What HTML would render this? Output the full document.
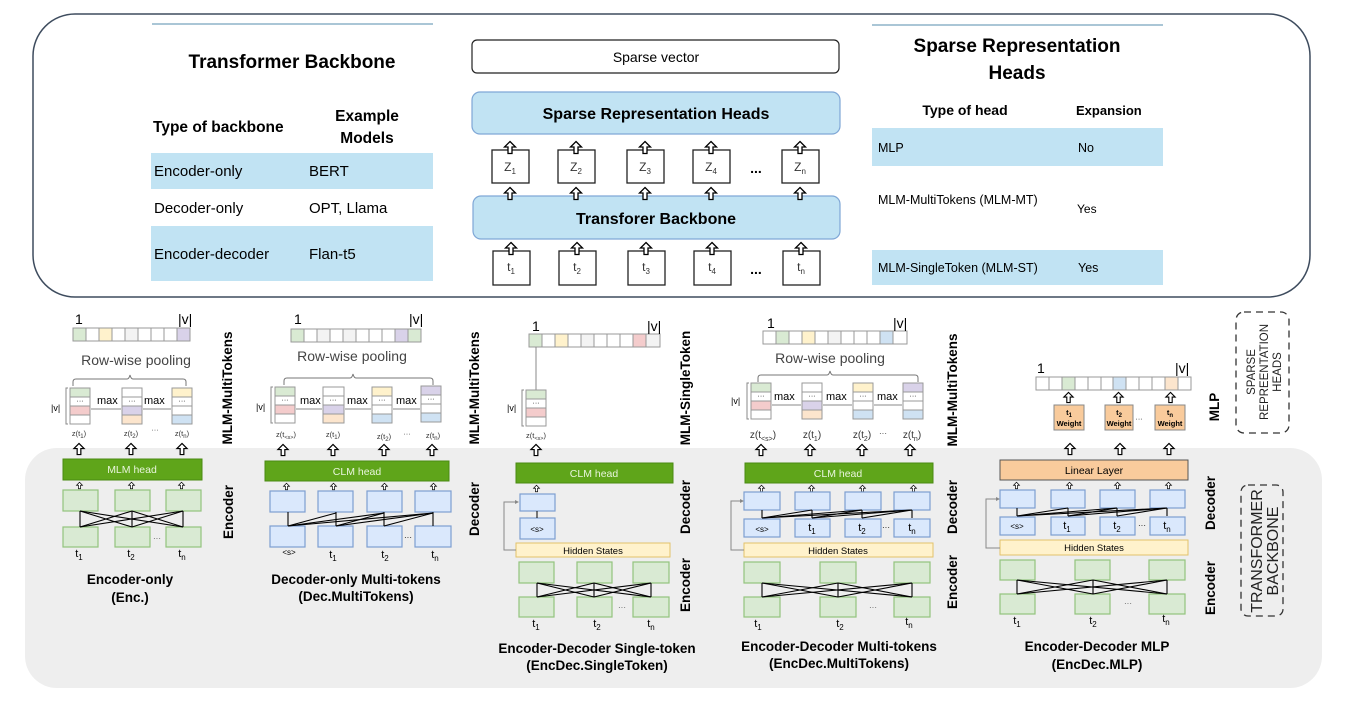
<!DOCTYPE html>
<html><head><meta charset="utf-8"><style>html,body{margin:0;padding:0;background:#fff}svg{display:block}text{font-family:"Liberation Sans",sans-serif}</style></head><body>
<svg width="1346" height="703" viewBox="0 0 1346 703" xmlns="http://www.w3.org/2000/svg">
<defs>
<symbol id="ar" viewBox="0 0 12 13" overflow="visible"><polygon points="6,0.5 11.5,6 8,6 8,12.5 4,12.5 4,6 0.5,6" fill="#fff" stroke="#000" stroke-width="1.3"/></symbol>
</defs>
<!-- bottom gray region -->
<rect x="25" y="448" width="1297" height="240" rx="32" fill="#eeeeee"/>
<!-- top box -->
<rect x="33" y="14" width="1277" height="283" rx="42" fill="#fff" stroke="#3e4c5e" stroke-width="1.5"/>

<!-- left table -->
<line x1="152" y1="24" x2="433" y2="24" stroke="#8eb3c9" stroke-width="1.5"/>
<text x="292" y="68" font-size="19" font-weight="bold" text-anchor="middle">Transformer Backbone</text>
<text x="153" y="132" font-size="15.5" font-weight="bold">Type of backbone</text>
<text x="367" y="121" font-size="15.5" font-weight="bold" text-anchor="middle">Example</text>
<text x="367" y="143" font-size="15.5" font-weight="bold" text-anchor="middle">Models</text>
<rect x="151" y="153" width="282" height="36" fill="#c1e3f3"/>
<rect x="151" y="226" width="282" height="55" fill="#c1e3f3"/>
<text x="154" y="176" font-size="15">Encoder-only</text><text x="309" y="176" font-size="15">BERT</text>
<text x="154" y="213" font-size="15">Decoder-only</text><text x="309" y="213" font-size="15">OPT, Llama</text>
<text x="154" y="259" font-size="15">Encoder-decoder</text><text x="309" y="259" font-size="15">Flan-t5</text>

<!-- middle -->
<rect x="472" y="40" width="367" height="33" rx="5" fill="#fff" stroke="#222" stroke-width="1.2"/>
<text x="656" y="62" font-size="14" text-anchor="middle">Sparse vector</text>
<rect x="472" y="92" width="368" height="42" rx="8" fill="#c1e3f3" stroke="#7fa7d6" stroke-width="1.2"/>
<text x="656" y="119" font-size="16" font-weight="bold" text-anchor="middle">Sparse Representation Heads</text>
<rect x="473" y="196" width="367" height="43" rx="8" fill="#c1e3f3" stroke="#7fa7d6" stroke-width="1.2"/>
<text x="656" y="224" font-size="16" font-weight="bold" text-anchor="middle">Transforer Backbone</text>
<g stroke="#222" stroke-width="1.3" fill="#fff">
<rect x="492" y="150" width="37" height="33"/><rect x="558" y="150" width="37" height="33"/><rect x="627" y="150" width="37" height="33"/><rect x="693" y="150" width="37" height="33"/><rect x="782" y="150" width="37" height="33"/>
<rect x="493" y="251" width="37" height="34"/><rect x="559" y="251" width="37" height="34"/><rect x="628" y="251" width="37" height="34"/><rect x="694" y="251" width="37" height="34"/><rect x="783" y="251" width="37" height="34"/>
</g>
<g font-size="12" text-anchor="middle" fill="#333">
<text x="510" y="171">Z<tspan font-size="8" dy="3">1</tspan></text><text x="576" y="171">Z<tspan font-size="8" dy="3">2</tspan></text><text x="645" y="171">Z<tspan font-size="8" dy="3">3</tspan></text><text x="711" y="171">Z<tspan font-size="8" dy="3">4</tspan></text><text x="800" y="171">Z<tspan font-size="8" dy="3">n</tspan></text>
<text x="511" y="271">t<tspan font-size="8" dy="3">1</tspan></text><text x="577" y="271">t<tspan font-size="8" dy="3">2</tspan></text><text x="646" y="271">t<tspan font-size="8" dy="3">3</tspan></text><text x="712" y="271">t<tspan font-size="8" dy="3">4</tspan></text><text x="801" y="271">t<tspan font-size="8" dy="3">n</tspan></text>
</g>
<text x="756" y="173" font-size="14" font-weight="bold" text-anchor="middle">...</text>
<text x="756" y="274" font-size="14" font-weight="bold" text-anchor="middle">...</text>
<g>
<use href="#ar" x="504" y="141" width="12" height="13"/><use href="#ar" x="570" y="141" width="12" height="13"/><use href="#ar" x="639" y="141" width="12" height="13"/><use href="#ar" x="705" y="141" width="12" height="13"/><use href="#ar" x="794" y="141" width="12" height="13"/>
<use href="#ar" x="504" y="187" width="12" height="13"/><use href="#ar" x="570" y="187" width="12" height="13"/><use href="#ar" x="639" y="187" width="12" height="13"/><use href="#ar" x="705" y="187" width="12" height="13"/><use href="#ar" x="794" y="187" width="12" height="13"/>
<use href="#ar" x="505" y="242" width="12" height="13"/><use href="#ar" x="571" y="242" width="12" height="13"/><use href="#ar" x="640" y="242" width="12" height="13"/><use href="#ar" x="706" y="242" width="12" height="13"/><use href="#ar" x="795" y="242" width="12" height="13"/>
</g>

<!-- right table -->
<line x1="872" y1="25" x2="1163" y2="25" stroke="#8eb3c9" stroke-width="1.5"/>
<text x="1017" y="52" font-size="19" font-weight="bold" text-anchor="middle">Sparse Representation</text>
<text x="1017" y="79" font-size="19" font-weight="bold" text-anchor="middle">Heads</text>
<text x="965" y="115" font-size="14" font-weight="bold" text-anchor="middle">Type of head</text>
<text x="1076" y="115" font-size="13" font-weight="bold">Expansion</text>
<rect x="872" y="128" width="291" height="38" fill="#c1e3f3"/>
<rect x="872" y="250" width="291" height="35" fill="#c1e3f3"/>
<text x="878" y="152" font-size="12.5">MLP</text><text x="1078" y="152" font-size="12.5">No</text>
<text x="878" y="204" font-size="12.5">MLM-MultiTokens (MLM-MT)</text><text x="1077" y="213" font-size="12">Yes</text>
<text x="878" y="272" font-size="12.5">MLM-SingleToken (MLM-ST)</text><text x="1078" y="272" font-size="12.5">Yes</text>

<!-- ============ PANEL 1 ============ -->
<g stroke="#999" stroke-width="1">
<rect x="73" y="328" width="13" height="13" fill="#d9ead3"/><rect x="86" y="328" width="13" height="13" fill="#fff"/><rect x="99" y="328" width="13" height="13" fill="#fff2cc"/><rect x="112" y="328" width="13" height="13" fill="#fff"/><rect x="125" y="328" width="13" height="13" fill="#f3f3f3"/><rect x="138" y="328" width="13" height="13" fill="#fff"/><rect x="151" y="328" width="13" height="13" fill="#fff"/><rect x="164" y="328" width="13" height="13" fill="#fff"/><rect x="177" y="328" width="13" height="13" fill="#d9d2e9"/>
</g>
<text x="75" y="324" font-size="14">1</text><text x="178" y="324" font-size="14">|v|</text>
<text x="136" y="365" font-size="14" fill="#444" text-anchor="middle">Row-wise pooling</text>
<path d="M73,386 v-4 q0,-3 3,-3 h51 q2,0 3,-4 q1,4 3,4 h50 q3,0 3,3 v4" fill="none" stroke="#777"/>
<g stroke="#999" font-size="7" text-anchor="middle">
<g transform="translate(70,388)"><rect width="20" height="9" fill="#d9ead3"/><rect y="9" width="20" height="9" fill="#fff"/><rect y="18" width="20" height="9" fill="#f4cccc"/><rect y="27" width="20" height="9" fill="#fff"/></g>
<g transform="translate(122,388)"><rect width="20" height="9" fill="#fff"/><rect y="9" width="20" height="9" fill="#fff"/><rect y="18" width="20" height="9" fill="#d9d2e9"/><rect y="27" width="20" height="9" fill="#fce5cd"/></g>
<g transform="translate(172,388)"><rect width="20" height="9" fill="#fff2cc"/><rect y="9" width="20" height="9" fill="#fff"/><rect y="18" width="20" height="9" fill="#fff"/><rect y="27" width="20" height="9" fill="#cfe2f3"/></g>
</g>
<g font-size="7" text-anchor="middle"><text x="80" y="403">···</text><text x="132" y="403">···</text><text x="182" y="403">···</text></g>
<g stroke="#888"><line x1="91" y1="409" x2="121" y2="409"/><line x1="143" y1="409" x2="171" y2="409"/></g>
<g font-size="11"><text x="97" y="404">max</text><text x="144" y="404">max</text></g>
<text x="51" y="411" font-size="9">|v|</text><path d="M68,388 h-2 v36 h2" fill="none" stroke="#888"/>
<g font-size="7.5" text-anchor="middle" fill="#333"><text x="79" y="436">z(t<tspan font-size="6" dy="2">1</tspan><tspan dy="-2">)</tspan></text><text x="131" y="436">z(t<tspan font-size="6" dy="2">2</tspan><tspan dy="-2">)</tspan></text><text x="155" y="432">···</text><text x="182" y="436">z(t<tspan font-size="6" dy="2">n</tspan><tspan dy="-2">)</tspan></text></g>
<use href="#ar" x="73" y="443" width="12" height="12"/><use href="#ar" x="125" y="443" width="12" height="12"/><use href="#ar" x="176" y="443" width="12" height="12"/>
<rect x="63" y="459" width="139" height="21" fill="#5fa51a" stroke="#4a8a12"/>
<text x="132" y="473" font-size="10.5" fill="#e8f5dc" text-anchor="middle">MLM head</text>
<use href="#ar" x="76" y="482" width="7" height="7"/><use href="#ar" x="128" y="482" width="7" height="7"/><use href="#ar" x="178" y="482" width="7" height="7"/>
<g fill="#d9ead3" stroke="#93c47d" stroke-width="1.2">
<rect x="63" y="490" width="35" height="21"/><rect x="115" y="490" width="35" height="21"/><rect x="166" y="490" width="35" height="21"/>
<rect x="63" y="527" width="35" height="20"/><rect x="115" y="527" width="35" height="20"/><rect x="166" y="527" width="35" height="20"/>
</g>
<g stroke="#000" stroke-width="1.1">
<line x1="80" y1="511" x2="80" y2="527"/><line x1="132" y1="511" x2="132" y2="527"/><line x1="183" y1="511" x2="183" y2="527"/>
<line x1="80" y1="511" x2="132" y2="527"/><line x1="80" y1="511" x2="183" y2="527"/><line x1="132" y1="511" x2="80" y2="527"/><line x1="132" y1="511" x2="183" y2="527"/><line x1="183" y1="511" x2="80" y2="527"/><line x1="183" y1="511" x2="132" y2="527"/>
</g>
<text x="157" y="541" font-size="8" fill="#555" text-anchor="middle">···</text>
<g font-size="11" text-anchor="middle"><text x="79" y="557">t<tspan font-size="8" dy="3">1</tspan></text><text x="131" y="557">t<tspan font-size="8" dy="3">2</tspan></text><text x="182" y="557">t<tspan font-size="8" dy="3">n</tspan></text></g>
<g font-size="13.5" font-weight="bold" text-anchor="middle"><text x="130" y="584">Encoder-only</text><text x="130" y="602">(Enc.)</text></g>
<text transform="translate(232,388) rotate(-90)" font-size="13.5" font-weight="bold" text-anchor="middle">MLM-MultiTokens</text>
<text transform="translate(233,512) rotate(-90)" font-size="13.5" font-weight="bold" text-anchor="middle">Encoder</text>

<!-- ============ PANEL 2 ============ -->
<g stroke="#999">
<rect x="291" y="329" width="13" height="13" fill="#d9ead3"/><rect x="304" y="329" width="13" height="13" fill="#fff"/><rect x="317" y="329" width="13" height="13" fill="#f3f3f3"/><rect x="330" y="329" width="13" height="13" fill="#fff"/><rect x="343" y="329" width="13" height="13" fill="#f3f3f3"/><rect x="356" y="329" width="13" height="13" fill="#fff"/><rect x="369" y="329" width="13" height="13" fill="#fff"/><rect x="382" y="329" width="13" height="13" fill="#fff"/><rect x="395" y="329" width="13" height="13" fill="#d9d2e9"/><rect x="408" y="329" width="13" height="13" fill="#d9ead3"/>
</g>
<text x="294" y="324" font-size="14">1</text><text x="409" y="324" font-size="14">|v|</text>
<text x="352" y="361" font-size="14" fill="#444" text-anchor="middle">Row-wise pooling</text>
<path d="M284,385 v-4 q0,-3 3,-3 h63 q2,0 3,-4 q1,4 3,4 h74 q3,0 3,3 v4" fill="none" stroke="#777"/>
<g stroke="#999">
<g transform="translate(275,387)"><rect width="20" height="9" fill="#d9ead3"/><rect y="9" width="20" height="9" fill="#fff"/><rect y="18" width="20" height="9" fill="#f4cccc"/><rect y="27" width="20" height="9" fill="#fff"/></g>
<g transform="translate(323,387)"><rect width="21" height="9" fill="#fff"/><rect y="9" width="21" height="9" fill="#fff"/><rect y="18" width="21" height="9" fill="#d9d2e9"/><rect y="27" width="21" height="9" fill="#fce5cd"/></g>
<g transform="translate(372,387)"><rect width="20" height="9" fill="#fff2cc"/><rect y="9" width="20" height="9" fill="#fff"/><rect y="18" width="20" height="9" fill="#fff"/><rect y="27" width="20" height="9" fill="#cfe2f3"/></g>
<g transform="translate(421,386)"><rect width="20" height="9" fill="#d9d2e9"/><rect y="9" width="20" height="9" fill="#fff"/><rect y="18" width="20" height="9" fill="#fff"/><rect y="27" width="20" height="9" fill="#cfe2f3"/></g>
</g>
<g font-size="7" text-anchor="middle"><text x="285" y="402">···</text><text x="333" y="402">···</text><text x="382" y="402">···</text><text x="431" y="401">···</text></g>
<g stroke="#888"><line x1="296" y1="409" x2="322" y2="409"/><line x1="345" y1="409" x2="371" y2="409"/><line x1="393" y1="409" x2="420" y2="409"/></g>
<g font-size="11"><text x="300" y="404">max</text><text x="347" y="404">max</text><text x="396" y="404">max</text></g>
<text x="256" y="410" font-size="9">|v|</text><path d="M273,387 h-2 v36 h2" fill="none" stroke="#888"/>
<g font-size="7.5" text-anchor="middle" fill="#333"><text x="286" y="437">z(t<tspan font-size="5.5" dy="2">&lt;s&gt;</tspan><tspan dy="-2">)</tspan></text><text x="333" y="437">z(t<tspan font-size="6" dy="2">1</tspan><tspan dy="-2">)</tspan></text><text x="384" y="439">z(t<tspan font-size="6" dy="2">2</tspan><tspan dy="-2">)</tspan></text><text x="407" y="436">···</text><text x="433" y="438">z(t<tspan font-size="6" dy="2">n</tspan><tspan dy="-2">)</tspan></text></g>
<use href="#ar" x="277" y="444" width="12" height="12"/><use href="#ar" x="327" y="444" width="12" height="12"/><use href="#ar" x="378" y="444" width="12" height="12"/><use href="#ar" x="426" y="444" width="12" height="12"/>
<rect x="265" y="461" width="184" height="20" fill="#5fa51a" stroke="#4a8a12"/>
<text x="357" y="475" font-size="10.5" fill="#e8f5dc" text-anchor="middle">CLM head</text>
<use href="#ar" x="283" y="483" width="7" height="7"/><use href="#ar" x="330" y="483" width="7" height="7"/><use href="#ar" x="381" y="483" width="7" height="7"/><use href="#ar" x="430" y="483" width="7" height="7"/>
<g fill="#dae8fc" stroke="#7e9fd1" stroke-width="1.2">
<rect x="270" y="491" width="35" height="21"/><rect x="318" y="491" width="35" height="21"/><rect x="367" y="491" width="35" height="21"/><rect x="415" y="491" width="36" height="21"/>
<rect x="270" y="526" width="35" height="21"/><rect x="318" y="526" width="35" height="21"/><rect x="367" y="526" width="35" height="21"/><rect x="415" y="526" width="36" height="21"/>
</g>
<g stroke="#000" stroke-width="1.1">
<line x1="288" y1="512" x2="288" y2="526"/><line x1="336" y1="512" x2="336" y2="526"/><line x1="384" y1="512" x2="384" y2="526"/><line x1="433" y1="512" x2="433" y2="526"/>
<line x1="288" y1="526" x2="336" y2="513"/><line x1="288" y1="526" x2="384" y2="513"/><line x1="288" y1="526" x2="433" y2="513"/><line x1="336" y1="526" x2="384" y2="513"/><line x1="336" y1="526" x2="433" y2="513"/><line x1="384" y1="526" x2="433" y2="513"/>
</g>
<text x="408" y="540" font-size="8" text-anchor="middle">···</text>
<g font-size="11" text-anchor="middle"><text x="289" y="555" font-size="8">&lt;s&gt;</text><text x="333" y="558">t<tspan font-size="8" dy="3">1</tspan></text><text x="385" y="558">t<tspan font-size="8" dy="3">2</tspan></text><text x="435" y="558">t<tspan font-size="8" dy="3">n</tspan></text></g>
<g font-size="13.5" font-weight="bold" text-anchor="middle"><text x="356" y="584">Decoder-only Multi-tokens</text><text x="356" y="601">(Dec.MultiTokens)</text></g>
<text transform="translate(479,388) rotate(-90)" font-size="13.5" font-weight="bold" text-anchor="middle">MLM-MultiTokens</text>
<text transform="translate(479,509) rotate(-90)" font-size="13.5" font-weight="bold" text-anchor="middle">Decoder</text>

<!-- ============ PANEL 3 ============ -->
<g stroke="#999">
<rect x="529" y="334" width="13" height="13" fill="#d9ead3"/><rect x="542" y="334" width="13" height="13" fill="#fff"/><rect x="555" y="334" width="13" height="13" fill="#fff2cc"/><rect x="568" y="334" width="13" height="13" fill="#fff"/><rect x="581" y="334" width="13" height="13" fill="#f3f3f3"/><rect x="594" y="334" width="13" height="13" fill="#fff"/><rect x="607" y="334" width="13" height="13" fill="#fff"/><rect x="620" y="334" width="13" height="13" fill="#fff"/><rect x="633" y="334" width="13" height="13" fill="#f4cccc"/><rect x="646" y="334" width="14" height="13" fill="#f3f3f3"/>
</g>
<text x="532" y="331" font-size="14">1</text><text x="647" y="331" font-size="14">|v|</text>
<line x1="536" y1="347" x2="536" y2="390" stroke="#888"/>
<g stroke="#999"><g transform="translate(526,390)"><rect width="20" height="9" fill="#d9ead3"/><rect y="9" width="20" height="9" fill="#fff"/><rect y="18" width="20" height="9" fill="#f4cccc"/><rect y="27" width="20" height="9" fill="#fff"/></g></g>
<text x="536" y="405" font-size="7" text-anchor="middle">···</text>
<text x="507" y="411" font-size="9">|v|</text><path d="M524,390 h-2 v36 h2" fill="none" stroke="#888"/>
<text x="536" y="438" font-size="7.5" fill="#333" text-anchor="middle">z(t<tspan font-size="5.5" dy="2">&lt;s&gt;</tspan><tspan dy="-2">)</tspan></text>
<use href="#ar" x="530" y="444" width="12" height="12"/>
<rect x="516" y="463" width="157" height="20" fill="#5fa51a" stroke="#4a8a12"/>
<text x="594" y="477" font-size="10.5" fill="#e8f5dc" text-anchor="middle">CLM head</text>
<use href="#ar" x="533" y="485" width="7" height="7"/>
<g fill="#dae8fc" stroke="#7e9fd1" stroke-width="1.2"><rect x="520" y="494" width="35" height="17"/><rect x="520" y="518" width="35" height="21"/></g>
<line x1="537" y1="511" x2="537" y2="518" stroke="#000"/>
<text x="537" y="532" font-size="8" text-anchor="middle">&lt;s&gt;</text>
<rect x="516" y="543" width="154" height="14" fill="#fff2cc" stroke="#e3c26a"/>
<text x="593" y="554" font-size="9.5" text-anchor="middle">Hidden States</text>
<path d="M516,550 h-12 v-48 h14" fill="none" stroke="#888"/><path d="M515,500 l4,2 l-4,2z" fill="#888"/>
<g fill="#d9ead3" stroke="#93c47d" stroke-width="1.2">
<rect x="519" y="562" width="35" height="21"/><rect x="577" y="562" width="35" height="21"/><rect x="633" y="562" width="36" height="21"/>
<rect x="519" y="597" width="35" height="20"/><rect x="577" y="597" width="35" height="20"/><rect x="633" y="597" width="36" height="20"/>
</g>
<g stroke="#000" stroke-width="1.1">
<line x1="537" y1="583" x2="537" y2="597"/><line x1="594" y1="583" x2="594" y2="597"/><line x1="651" y1="583" x2="651" y2="597"/>
<line x1="537" y1="583" x2="594" y2="597"/><line x1="537" y1="583" x2="651" y2="597"/><line x1="594" y1="583" x2="537" y2="597"/><line x1="594" y1="583" x2="651" y2="597"/><line x1="651" y1="583" x2="537" y2="597"/><line x1="651" y1="583" x2="594" y2="597"/>
</g>
<text x="622" y="610" font-size="8" fill="#555" text-anchor="middle">···</text>
<g font-size="11" text-anchor="middle"><text x="536" y="627">t<tspan font-size="8" dy="3">1</tspan></text><text x="597" y="627">t<tspan font-size="8" dy="3">2</tspan></text><text x="651" y="627">t<tspan font-size="8" dy="3">n</tspan></text></g>
<g font-size="13.5" font-weight="bold" text-anchor="middle"><text x="597" y="653">Encoder-Decoder Single-token</text><text x="597" y="670">(EncDec.SingleToken)</text></g>
<text transform="translate(690,388) rotate(-90)" font-size="13.5" font-weight="bold" text-anchor="middle">MLM-SingleToken</text>
<text transform="translate(690,507) rotate(-90)" font-size="13.5" font-weight="bold" text-anchor="middle">Decoder</text>
<text transform="translate(690,585) rotate(-90)" font-size="13.5" font-weight="bold" text-anchor="middle">Encoder</text>

<!-- ============ PANEL 4 ============ -->
<g stroke="#999">
<rect x="763" y="331" width="13" height="13" fill="#fff"/><rect x="776" y="331" width="13" height="13" fill="#d9ead3"/><rect x="789" y="331" width="13" height="13" fill="#fff"/><rect x="802" y="331" width="13" height="13" fill="#fff2cc"/><rect x="815" y="331" width="13" height="13" fill="#fff"/><rect x="828" y="331" width="13" height="13" fill="#f3f3f3"/><rect x="841" y="331" width="13" height="13" fill="#fff"/><rect x="854" y="331" width="13" height="13" fill="#fff"/><rect x="867" y="331" width="13" height="13" fill="#fff"/><rect x="880" y="331" width="13" height="13" fill="#cfe2f3"/><rect x="893" y="331" width="14" height="13" fill="#fff"/>
</g>
<text x="767" y="328" font-size="14">1</text><text x="893" y="328" font-size="14">|v|</text>
<text x="830" y="363" font-size="14" fill="#444" text-anchor="middle">Row-wise pooling</text>
<path d="M758,382 v-4 q0,-3 3,-3 h66 q2,0 3,-4 q1,4 3,4 h82 q3,0 3,3 v4" fill="none" stroke="#777"/>
<g stroke="#999">
<g transform="translate(751,383)"><rect width="20" height="9" fill="#d9ead3"/><rect y="9" width="20" height="9" fill="#fff"/><rect y="18" width="20" height="9" fill="#f4cccc"/><rect y="27" width="20" height="9" fill="#fff"/></g>
<g transform="translate(802,383)"><rect width="20" height="9" fill="#fff"/><rect y="9" width="20" height="9" fill="#fff"/><rect y="18" width="20" height="9" fill="#d9d2e9"/><rect y="27" width="20" height="9" fill="#fce5cd"/></g>
<g transform="translate(853,383)"><rect width="20" height="9" fill="#fff2cc"/><rect y="9" width="20" height="9" fill="#fff"/><rect y="18" width="20" height="9" fill="#fff"/><rect y="27" width="20" height="9" fill="#cfe2f3"/></g>
<g transform="translate(903,383)"><rect width="20" height="9" fill="#d9d2e9"/><rect y="9" width="20" height="9" fill="#fff"/><rect y="18" width="20" height="9" fill="#fff"/><rect y="27" width="20" height="9" fill="#cfe2f3"/></g>
</g>
<g font-size="7" text-anchor="middle"><text x="761" y="398">···</text><text x="812" y="398">···</text><text x="863" y="398">···</text><text x="913" y="398">···</text></g>
<g stroke="#888"><line x1="772" y1="405" x2="801" y2="405"/><line x1="823" y1="405" x2="852" y2="405"/><line x1="874" y1="405" x2="902" y2="405"/></g>
<g font-size="11"><text x="774" y="400">max</text><text x="826" y="400">max</text><text x="877" y="400">max</text></g>
<text x="731" y="404" font-size="9">|v|</text><path d="M749,383 h-2 v36 h2" fill="none" stroke="#888"/>
<g font-size="10" text-anchor="middle" fill="#333"><text x="763" y="438">z(t<tspan font-size="7" dy="3">&lt;s&gt;</tspan><tspan dy="-3">)</tspan></text><text x="812" y="438">z(t<tspan font-size="7" dy="3">1</tspan><tspan dy="-3">)</tspan></text><text x="862" y="438">z(t<tspan font-size="7" dy="3">2</tspan><tspan dy="-3">)</tspan></text><text x="883" y="436" font-size="8">···</text><text x="912" y="438">z(t<tspan font-size="7" dy="3">n</tspan><tspan dy="-3">)</tspan></text></g>
<use href="#ar" x="755" y="444" width="12" height="12"/><use href="#ar" x="804" y="444" width="12" height="12"/><use href="#ar" x="856" y="444" width="12" height="12"/><use href="#ar" x="904" y="444" width="12" height="12"/>
<rect x="745" y="463" width="188" height="20" fill="#5fa51a" stroke="#4a8a12"/>
<text x="838" y="477" font-size="10.5" fill="#e8f5dc" text-anchor="middle">CLM head</text>
<use href="#ar" x="758" y="485" width="7" height="7"/><use href="#ar" x="808" y="485" width="7" height="7"/><use href="#ar" x="859" y="485" width="7" height="7"/><use href="#ar" x="910" y="485" width="7" height="7"/>
<g fill="#dae8fc" stroke="#7e9fd1" stroke-width="1.2">
<rect x="744" y="492" width="36" height="18"/><rect x="795" y="492" width="35" height="18"/><rect x="845" y="492" width="36" height="18"/><rect x="894" y="492" width="36" height="18"/>
<rect x="744" y="519" width="36" height="18"/><rect x="795" y="519" width="35" height="18"/><rect x="845" y="519" width="36" height="18"/><rect x="894" y="519" width="36" height="18"/>
</g>
<g stroke="#000" stroke-width="1.1">
<line x1="762" y1="510" x2="762" y2="518"/><line x1="812" y1="510" x2="812" y2="518"/><line x1="862" y1="510" x2="862" y2="518"/><line x1="912" y1="510" x2="912" y2="518"/>
<line x1="762" y1="518" x2="812" y2="510"/><line x1="762" y1="518" x2="862" y2="510"/><line x1="762" y1="518" x2="912" y2="510"/><line x1="812" y1="518" x2="862" y2="510"/><line x1="812" y1="518" x2="912" y2="510"/><line x1="862" y1="518" x2="912" y2="510"/>
</g>
<g font-size="11" text-anchor="middle"><text x="762" y="532" font-size="8">&lt;s&gt;</text><text x="812" y="531">t<tspan font-size="8" dy="3">1</tspan></text><text x="862" y="531">t<tspan font-size="8" dy="3">2</tspan></text><text x="886" y="530" font-size="8">···</text><text x="912" y="531">t<tspan font-size="8" dy="3">n</tspan></text></g>
<rect x="744" y="543" width="189" height="14" fill="#fff2cc" stroke="#e3c26a"/>
<text x="838" y="554" font-size="9.5" text-anchor="middle">Hidden States</text>
<path d="M744,550 h-13 v-49 h12" fill="none" stroke="#888"/><path d="M740,499 l4,2 l-4,2z" fill="#888"/>
<g fill="#d9ead3" stroke="#93c47d" stroke-width="1.2">
<rect x="744" y="562" width="36" height="21"/><rect x="820" y="562" width="36" height="21"/><rect x="894" y="562" width="36" height="21"/>
<rect x="744" y="597" width="36" height="20"/><rect x="820" y="597" width="36" height="20"/><rect x="894" y="597" width="36" height="20"/>
</g>
<g stroke="#000" stroke-width="1.1">
<line x1="762" y1="583" x2="762" y2="597"/><line x1="838" y1="583" x2="838" y2="597"/><line x1="912" y1="583" x2="912" y2="597"/>
<line x1="762" y1="583" x2="838" y2="597"/><line x1="762" y1="583" x2="912" y2="597"/><line x1="838" y1="583" x2="762" y2="597"/><line x1="838" y1="583" x2="912" y2="597"/><line x1="912" y1="583" x2="762" y2="597"/><line x1="912" y1="583" x2="838" y2="597"/>
</g>
<text x="873" y="610" font-size="8" fill="#555" text-anchor="middle">···</text>
<g font-size="11" text-anchor="middle"><text x="758" y="627">t<tspan font-size="8" dy="3">1</tspan></text><text x="840" y="627">t<tspan font-size="8" dy="3">2</tspan></text><text x="909" y="625">t<tspan font-size="8" dy="3">n</tspan></text></g>
<g font-size="13.5" font-weight="bold" text-anchor="middle"><text x="839" y="651">Encoder-Decoder Multi-tokens</text><text x="839" y="668">(EncDec.MultiTokens)</text></g>
<text transform="translate(957,390) rotate(-90)" font-size="13.5" font-weight="bold" text-anchor="middle">MLM-MultiTokens</text>
<text transform="translate(957,507) rotate(-90)" font-size="13.5" font-weight="bold" text-anchor="middle">Decoder</text>
<text transform="translate(957,582) rotate(-90)" font-size="13.5" font-weight="bold" text-anchor="middle">Encoder</text>

<!-- ============ PANEL 5 ============ -->
<g stroke="#999">
<rect x="1036" y="377" width="13" height="13" fill="#fff"/><rect x="1049" y="377" width="13" height="13" fill="#fff"/><rect x="1062" y="377" width="13" height="13" fill="#d9ead3"/><rect x="1075" y="377" width="13" height="13" fill="#fff"/><rect x="1088" y="377" width="13" height="13" fill="#fff"/><rect x="1101" y="377" width="12" height="13" fill="#fff"/><rect x="1113" y="377" width="13" height="13" fill="#cfe2f3"/><rect x="1126" y="377" width="13" height="13" fill="#fff"/><rect x="1139" y="377" width="13" height="13" fill="#fff"/><rect x="1152" y="377" width="13" height="13" fill="#fff"/><rect x="1165" y="377" width="13" height="13" fill="#fce5cd"/><rect x="1178" y="377" width="13" height="13" fill="#fff"/>
</g>
<text x="1037" y="373" font-size="14">1</text><text x="1175" y="373" font-size="14">|v|</text>
<use href="#ar" x="1063" y="392" width="11" height="11"/><use href="#ar" x="1113" y="392" width="11" height="11"/><use href="#ar" x="1165" y="392" width="11" height="11"/>
<g fill="#f9cb9c" stroke="#888"><rect x="1054" y="405" width="30" height="25"/><rect x="1105" y="405" width="28" height="25"/><rect x="1155" y="405" width="30" height="25"/></g>
<g font-size="7.5" font-weight="bold" text-anchor="middle"><text x="1069" y="415">t<tspan font-size="6" dy="2">1</tspan></text><text x="1069" y="426">Weight</text><text x="1119" y="415">t<tspan font-size="6" dy="2">2</tspan></text><text x="1119" y="426">Weight</text><text x="1170" y="415">t<tspan font-size="6" dy="2">n</tspan></text><text x="1170" y="426">Weight</text></g>
<text x="1139" y="421" font-size="7" text-anchor="middle">···</text>
<use href="#ar" x="1064" y="443" width="12" height="12"/><use href="#ar" x="1114" y="443" width="12" height="12"/><use href="#ar" x="1163" y="443" width="12" height="12"/>
<rect x="1000" y="460" width="188" height="20" fill="#f9cb9c" stroke="#555"/>
<text x="1094" y="474" font-size="10.5" text-anchor="middle">Linear Layer</text>
<use href="#ar" x="1013" y="482" width="7" height="7"/><use href="#ar" x="1066" y="482" width="7" height="7"/><use href="#ar" x="1114" y="482" width="7" height="7"/><use href="#ar" x="1165" y="482" width="7" height="7"/>
<g fill="#dae8fc" stroke="#7e9fd1" stroke-width="1.2">
<rect x="1000" y="490" width="35" height="18"/><rect x="1051" y="490" width="34" height="18"/><rect x="1100" y="490" width="35" height="18"/><rect x="1150" y="490" width="35" height="18"/>
<rect x="1000" y="517" width="35" height="18"/><rect x="1051" y="517" width="34" height="18"/><rect x="1100" y="517" width="35" height="18"/><rect x="1150" y="517" width="35" height="18"/>
</g>
<g stroke="#000" stroke-width="1.1">
<line x1="1017" y1="508" x2="1017" y2="516"/><line x1="1068" y1="508" x2="1068" y2="516"/><line x1="1117" y1="508" x2="1117" y2="516"/><line x1="1167" y1="508" x2="1167" y2="516"/>
<line x1="1017" y1="516" x2="1068" y2="508"/><line x1="1017" y1="516" x2="1117" y2="508"/><line x1="1017" y1="516" x2="1167" y2="508"/><line x1="1068" y1="516" x2="1117" y2="508"/><line x1="1068" y1="516" x2="1167" y2="508"/><line x1="1117" y1="516" x2="1167" y2="508"/>
</g>
<g font-size="11" text-anchor="middle"><text x="1017" y="529" font-size="8">&lt;s&gt;</text><text x="1067" y="529">t<tspan font-size="8" dy="3">1</tspan></text><text x="1117" y="529">t<tspan font-size="8" dy="3">2</tspan></text><text x="1142" y="528" font-size="8">···</text><text x="1167" y="529">t<tspan font-size="8" dy="3">n</tspan></text></g>
<rect x="1000" y="540" width="188" height="15" fill="#fff2cc" stroke="#e3c26a"/>
<text x="1094" y="551" font-size="9.5" text-anchor="middle">Hidden States</text>
<path d="M1000,548 h-14 v-49 h12" fill="none" stroke="#888"/><path d="M996,497 l4,2 l-4,2z" fill="#888"/>
<g fill="#d9ead3" stroke="#93c47d" stroke-width="1.2">
<rect x="1000" y="560" width="35" height="20"/><rect x="1075" y="560" width="35" height="20"/><rect x="1149" y="560" width="36" height="20"/>
<rect x="1000" y="594" width="35" height="20"/><rect x="1075" y="594" width="35" height="20"/><rect x="1149" y="594" width="36" height="20"/>
</g>
<g stroke="#000" stroke-width="1.1">
<line x1="1017" y1="580" x2="1017" y2="594"/><line x1="1093" y1="580" x2="1093" y2="594"/><line x1="1167" y1="580" x2="1167" y2="594"/>
<line x1="1017" y1="580" x2="1093" y2="594"/><line x1="1017" y1="580" x2="1167" y2="594"/><line x1="1093" y1="580" x2="1017" y2="594"/><line x1="1093" y1="580" x2="1167" y2="594"/><line x1="1167" y1="580" x2="1017" y2="594"/><line x1="1167" y1="580" x2="1093" y2="594"/>
</g>
<text x="1128" y="606" font-size="8" fill="#555" text-anchor="middle">···</text>
<g font-size="11" text-anchor="middle"><text x="1017" y="624">t<tspan font-size="8" dy="3">1</tspan></text><text x="1093" y="624">t<tspan font-size="8" dy="3">2</tspan></text><text x="1166" y="622">t<tspan font-size="8" dy="3">n</tspan></text></g>
<g font-size="13.5" font-weight="bold" text-anchor="middle"><text x="1097" y="651">Encoder-Decoder MLP</text><text x="1097" y="669">(EncDec.MLP)</text></g>
<text transform="translate(1219,407) rotate(-90)" font-size="13.5" font-weight="bold" text-anchor="middle">MLP</text>
<text transform="translate(1215,503) rotate(-90)" font-size="13.5" font-weight="bold" text-anchor="middle">Decoder</text>
<text transform="translate(1215,588) rotate(-90)" font-size="13.5" font-weight="bold" text-anchor="middle">Encoder</text>

<!-- dashed label boxes -->
<rect x="1236" y="312" width="53" height="121" rx="8" fill="#fff" stroke="#333" stroke-width="1.3" stroke-dasharray="7,5"/>
<g font-size="11.5" text-anchor="middle" fill="#222">
<text transform="translate(1255,372) rotate(-90)">SPARSE</text>
<text transform="translate(1268,372) rotate(-90)">REPREENTATION</text>
<text transform="translate(1281,372) rotate(-90)">HEADS</text>
</g>
<rect x="1241" y="485" width="42" height="131" rx="7" fill="#eeeeee" stroke="#333" stroke-width="1.3" stroke-dasharray="7,5"/>
<g font-size="16" text-anchor="middle" fill="#222">
<text transform="translate(1262,551) rotate(-90)">TRANSFORMER</text>
<text transform="translate(1278,551) rotate(-90)">BACKBONE</text>
</g>
</svg>
</body></html>
